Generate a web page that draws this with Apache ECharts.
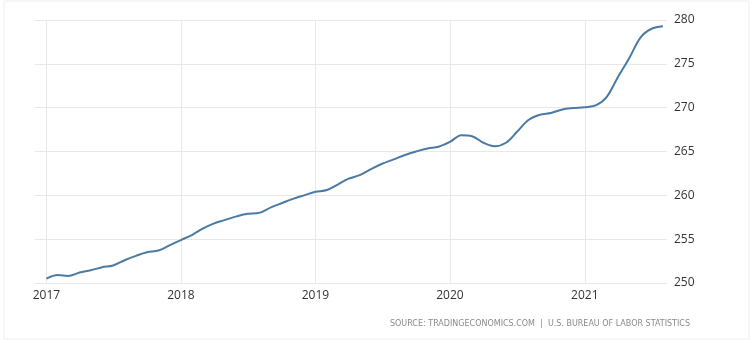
<!DOCTYPE html>
<html>
<head>
<meta charset="utf-8">
<script src="https://cdn.jsdelivr.net/npm/echarts@6/dist/echarts.min.js"></script>
<style>
html,body{margin:0;padding:0;background:#fff;}
#c{width:752px;height:342px;}
</style>
</head>
<body>
<div id="c"></div>
<script>
// Months Jan 2017 .. Aug 2021
const startYear = 2017;
const values = [
  250.5, 250.9, 250.8, 251.2, 251.45, 251.8, 252.0, 252.6, 253.1, 253.5, 253.7, 254.3,
  254.9, 255.5, 256.2, 256.8, 257.2, 257.6, 257.9, 258.0, 258.6, 259.1, 259.6, 260.0,
  260.4, 260.6, 261.2, 261.9, 262.3, 263.0, 263.6, 264.1, 264.6, 265.0, 265.35, 265.55,
  266.1, 266.85, 266.75, 266.0, 265.6, 266.0, 267.25, 268.6, 269.2, 269.4, 269.8, 269.95,
  270.05, 270.3, 271.2, 273.5, 275.6, 278.0, 279.0, 279.3
];
const yearTicks = ['2017', '2018', '2019', '2020', '2021'];
const yTicks = [250, 255, 260, 265, 270, 275, 280];
const sourceText = 'SOURCE: TRADINGECONOMICS.COM  |  U.S. BUREAU OF LABOR STATISTICS';

function monthDate(i) {
  const y = startYear + Math.floor(i / 12);
  const m = (i % 12) + 1;
  return y + '-' + (m < 10 ? '0' + m : m) + '-01';
}
const seriesData = values.map((v, i) => [monthDate(i), v]);

const chart = echarts.init(document.getElementById('c'));
const YEAR = 365 * 24 * 3600 * 1000;
chart.setOption({
  animation: false,
  backgroundColor: '#ffffff',
  grid: { left: 35, right: 85, top: 20, bottom: 59 },
  xAxis: {
    type: 'time',
    min: '2016-12-01',
    max: '2021-08-12',
    minInterval: YEAR,
    maxInterval: YEAR,
    axisLine: { show: false },
    axisTick: { show: false },
    splitLine: { show: false },
    axisLabel: {
      formatter: '{yyyy}',
      color: '#333',
      fontSize: 12,
      fontFamily: 'Open Sans',
      margin: 7,
      showMinLabel: false,
      showMaxLabel: false
    }
  },
  yAxis: {
    type: 'value',
    position: 'right',
    min: yTicks[0],
    max: yTicks[yTicks.length - 1],
    interval: 5,
    axisLine: { show: false },
    axisTick: { show: false },
    splitLine: { show: true, lineStyle: { color: '#e8e8e8', width: 1 } },
    axisLabel: {
      color: '#333',
      fontSize: 12,
      fontFamily: 'Open Sans',
      margin: 7
    }
  },
  graphic: [
    {
      type: 'rect',
      shape: { x: 4, y: 1, width: 745, height: 338 },
      style: { fill: 'none', stroke: '#eeeeee', lineWidth: 1 },
      silent: true
    },
    {
      type: 'text',
      right: 62,
      top: 320,
      style: {
        text: sourceText,
        fill: '#8a8a8a',
        font: '8px "DejaVu Sans"'
      }
    }
  ],
  series: [{
    type: 'line',
    data: seriesData,
    smooth: 0.35,
    symbol: 'none',
    z: 3,
    lineStyle: { color: '#4a7aa5', width: 2 },
    markLine: {
      silent: true,
      z: 1,
      symbol: ['none', 'none'],
      label: { show: false },
      lineStyle: { color: '#e8e8e8', width: 1, type: 'solid' },
      emphasis: { disabled: true },
      data: yearTicks.map(y => ({ xAxis: y + '-01-01' }))
    }
  }]
});
</script>
</body>
</html>
